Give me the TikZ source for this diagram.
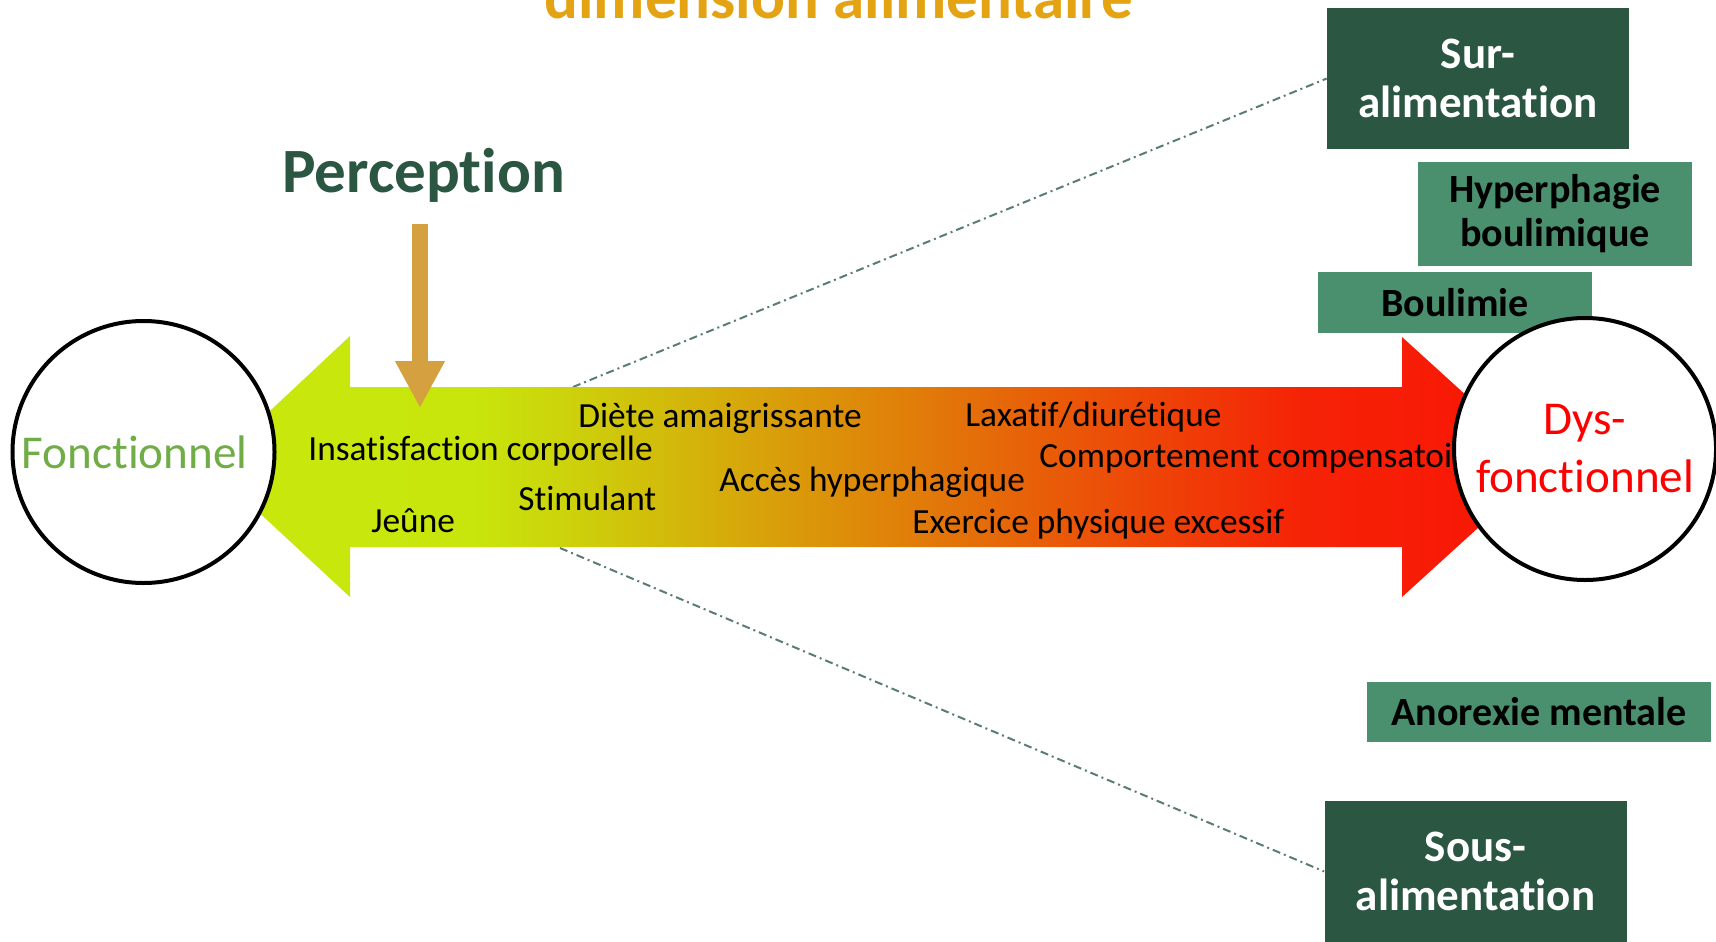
\documentclass[tikz,border=0pt]{standalone}
\usepackage{fontspec}
\setmainfont{Carlito}[Ligatures=CommonOff]
\usetikzlibrary{arrows.meta}
\definecolor{vertfonce}{RGB}{42,86,66}
\definecolor{vertmoyen}{RGB}{74,143,110}
\definecolor{orangetitre}{RGB}{228,163,18}
\definecolor{ocre}{RGB}{212,160,64}
\definecolor{vertclair}{RGB}{112,173,71}
\definecolor{pointille}{RGB}{90,125,110}
\pgfdeclarehorizontalshading{bande}{100bp}{rgb(0bp)=(0.784,0.910,0.047); rgb(25bp)=(0.784,0.910,0.047); rgb(34.74bp)=(0.784,0.902,0.047); rgb(38.11bp)=(0.800,0.831,0.043); rgb(43.35bp)=(0.831,0.698,0.039); rgb(50.84bp)=(0.878,0.502,0.035); rgb(58.33bp)=(0.922,0.314,0.031); rgb(65.82bp)=(0.961,0.137,0.024); rgb(75bp)=(0.980,0.078,0.020); rgb(100bp)=(0.980,0.078,0.020)}
\tikzset{
	titre/.style={font=\fontsize{35.9}{40}\selectfont\bfseries, anchor=base west, inner sep=0pt},
	texte/.style={font=\fontsize{20.1}{24}\selectfont, anchor=base west, inner sep=0pt},
	cadrefonce/.style={fill=vertfonce, text=white, font=\fontsize{25.6}{27.5}\selectfont\bfseries, align=center, minimum width=60.4mm, minimum height=28.2mm, inner sep=0pt},
	cadre/.style={fill=vertmoyen, text=black, font=\fontsize{22.8}{25}\selectfont\bfseries, align=center, minimum width=54.8mm, inner sep=0pt},
	cercle/.style={circle, draw=black, line width=0.8mm, fill=white, minimum size=52.4mm, inner sep=0pt, font=\fontsize{26.8}{33}\selectfont, align=center},
	lien/.style={pointille, line width=0.4mm, dash pattern=on 1.6mm off 0.8mm on 0.4mm off 0.8mm},
	fleche/.style={ocre, line width=3.2mm, -{Triangle[width=9.4mm,length=9.4mm]}}
}
\begin{document}
\begin{tikzpicture}[x=0.2mm,y=-0.2mm]
				\clip (0,0) rectangle (1716,941);
				
				\node[titre, text=orangetitre] (titre) at (544,19) {dimension alimentaire};
				\node[titre, text=vertfonce] (perception) at (282,193) {Perception};
				
				\node[cadrefonce] (sur) at (1478,78.5) {Sur-\\alimentation};
				\node[cadre, minimum height=20.8mm] (hyper) at (1555,214) {Hyperphagie\\boulimique};
				\node[cadre, minimum height=12.2mm] (boulimie) at (1455,302.5) {Boulimie};
				\node[cadre, minimum width=68.8mm, minimum height=12mm] (anorexie) at (1539,712) {Anorexie mentale};
				\node[cadrefonce] (sous) at (1475.5,871.5) {Sous-\\alimentation};
				
				\coordinate (departhaut) at (573,387);
				\coordinate (departbas) at (560,548);
				\draw[lien] (departhaut) -- (sur.west);
				\draw[lien] (departbas) -- (sous.west);
				
				\shade[shading=bande] (210,467) -- (350,336) -- (350,387) -- (1402,387) -- (1402,337) -- (1545,467) -- (1402,597) -- (1402,547) -- (350,547) -- (350,597) -- cycle;
				
				\node[texte] (diete) at (578,427) {Diète amaigrissante};
				\node[texte] (laxatif) at (965,426) {Laxatif/diurétique};
				\node[texte] (insatisfaction) at (308,460) {Insatisfaction corporelle};
				\node[texte] (comportement) at (1039,467) {Comportement compensatoire};
				\node[texte] (acces) at (719,491) {Accès hyperphagique};
				\node[texte] (stimulant) at (518,510) {Stimulant};
				\node[texte] (jeune) at (371,532) {Jeûne};
				\node[texte] (exercice) at (912,533) {Exercice physique excessif};
				
				\coordinate (queue) at (420,224);
				\coordinate (pointe) at (420,408);
				\draw[fleche] (queue) -- (pointe);
				
				\node[cercle, text=vertclair] (fonctionnel) at (143.5,452) {\hspace*{-10pt}Fonctionnel};
				\node[cercle, text=red] (dysfonctionnel) at (1585,449) {Dys-\\fonctionnel};
			\end{tikzpicture}
\end{document}
